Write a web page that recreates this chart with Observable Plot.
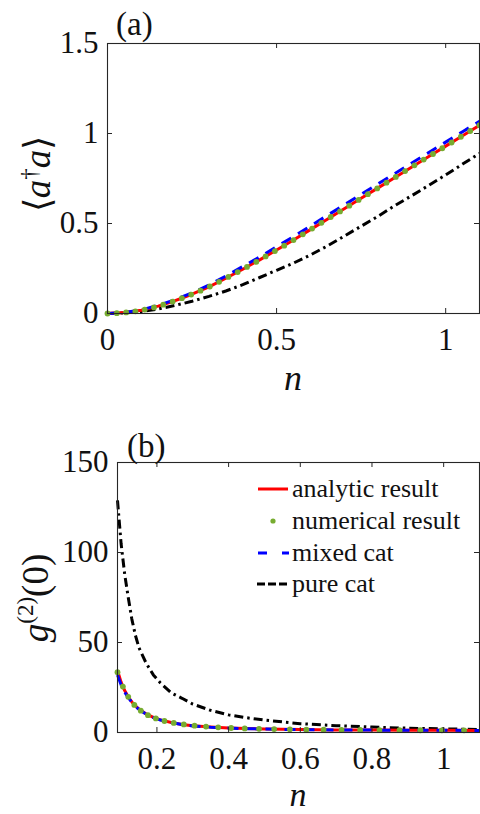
<!DOCTYPE html>
<html>
<head>
<meta charset="utf-8">
<script src="https://cdn.jsdelivr.net/npm/d3@7"></script>
<script src="https://cdn.jsdelivr.net/npm/@observablehq/plot@0.6"></script>
<style>
  html, body { margin: 0; padding: 0; background: #fff; }
  #wrap { position: relative; width: 480px; height: 814px; overflow: hidden; }
  #pa { position: absolute; left: 0; top: 0; }
  #pb { position: absolute; left: 0; top: 400px; }
  svg { overflow: visible; }
  svg text { font-family: "Liberation Serif", "Times New Roman", serif; }
</style>
</head>
<body>
<div id="wrap"><div id="pa"></div><div id="pb"></div></div>
<script>
// ---------- Panel (a): <a†a> vs n ----------
const nA = [0,0.05,0.1,0.15,0.2,0.25,0.3,0.35,0.4,0.45,0.5,0.55,0.6,0.65,0.7,0.75,0.8,0.85,0.9,0.95,1.0,1.05,1.1];
const analyticA = [0,0.005,0.018,0.041,0.071,0.107,0.148,0.196,0.246,0.298,0.353,0.408,0.466,0.524,0.582,0.640,0.698,0.756,0.814,0.872,0.930,0.988,1.046];
const mixedA    = [0,0.005,0.02,0.045,0.077,0.115,0.158,0.208,0.261,0.314,0.371,0.427,0.486,0.545,0.603,0.662,0.72,0.778,0.836,0.894,0.952,1.01,1.068];
const pureA     = [0,0.003,0.011,0.025,0.045,0.068,0.095,0.125,0.16,0.2,0.24,0.28,0.325,0.375,0.43,0.485,0.54,0.6,0.655,0.712,0.77,0.83,0.889];
const nDotsA = [0,0.0275,0.055,0.0825,0.11,0.1375,0.165,0.1925,0.22,0.2475,0.275,0.3025,0.33,0.3575,0.385,0.4125,0.44,0.4675,0.495,0.5225,0.55,0.5775,0.605,0.6325,0.66,0.6875,0.715,0.7425,0.77,0.7975,0.825,0.8525,0.88,0.9075,0.935,0.9625,0.99,1.0175,1.045,1.0725,1.1];
const numericalA = [0,0.002,0.006,0.012,0.022,0.034,0.049,0.066,0.085,0.105,0.127,0.15,0.176,0.203,0.23,0.259,0.287,0.317,0.347,0.377,0.408,0.44,0.472,0.504,0.536,0.567,0.599,0.631,0.663,0.695,0.727,0.759,0.791,0.823,0.855,0.886,0.918,0.95,0.982,1.014,1.046];
const xTicksA = [0,0.5,1];
const yTicksA = [0,0.5,1,1.5];

// ---------- Panel (b): g2(0) vs n ----------
const nB = [0.09,0.10,0.11,0.12,0.13,0.14,0.15,0.17,0.19,0.21,0.24,0.27,0.30,0.35,0.40,0.45,0.50,0.60,0.70,0.80,0.90,1.00,1.10];
const analyticB = [34.5,28,23.3,19.8,17,14.8,13,10.3,8.4,7.0,5.6,4.5,3.7,3.0,2.5,2.2,1.95,1.6,1.45,1.35,1.28,1.22,1.18];
const mixedB    = [32,26.5,22.5,19.4,16.8,14.6,12.8,10.2,8.3,6.9,5.5,4.4,3.6,2.9,2.45,2.15,1.9,1.57,1.42,1.32,1.25,1.2,1.16];
const pureB     = [129,105,88,75,63,54,47,38.5,32,27.5,22,19,15.8,12.3,9.8,8.2,6.9,4.9,3.8,3.0,2.4,2.0,1.7];
const nDotsB = [0.09,0.105,0.12,0.137,0.155,0.175,0.197,0.221,0.247,0.275,0.305,0.337,0.371,0.407,0.445,0.485,0.527,0.571,0.617,0.665,0.715,0.767,0.821,0.877,0.935,0.995,1.057];
const numericalB = [33.5,25.5,19.8,15.3,12.1,9.6,7.8,6.4,5.3,4.5,3.8,3.3,2.85,2.5,2.25,2.05,1.9,1.75,1.62,1.52,1.45,1.39,1.34,1.3,1.26,1.23,1.2];
const xTicksB = [0.2,0.4,0.6,0.8,1];
const yTicksB = [0,50,100,150];

const legendLabels = ["analytic result","numerical result","mixed cat","pure cat"];

const RED = "#ff0000", BLUE = "#0000ff", GREEN = "#77ac30", BLACK = "#000000", AX = "#262626";
const FONT = "Liberation Serif, Times New Roman, serif";

const rows = (xs, ys) => xs.map((x, i) => ({x, y: ys[i]}));

function panel({xDomain, yDomain, height, mt, mb, ml, mr, series, dots, xTicks, yTicks}) {
  const innerH = height - mt - mb;
  const innerW = 480 - ml - mr;
  const T = 5;
  return Plot.plot({
    width: 480, height,
    marginTop: mt, marginBottom: mb, marginLeft: ml, marginRight: mr,
    x: {domain: xDomain},
    y: {domain: yDomain},
    style: `font-family: ${FONT}; font-size: 31px; color: #111; background: white; overflow: visible;`,
    marks: [
      ...series.map(s => Plot.line(s.data, {x: "x", y: "y", stroke: s.color, strokeWidth: s.width, strokeDasharray: s.dash, strokeLinecap: "butt", strokeLinejoin: "round"})),
      Plot.dot(dots, {x: "x", y: "y", r: 2.9, fill: GREEN, stroke: "none"}),
      Plot.frame({stroke: AX, strokeWidth: 1.1}),
      Plot.tickX(xTicks, {x: d => d, insetTop: innerH - T, stroke: AX}),
      Plot.tickX(xTicks, {x: d => d, insetBottom: innerH - T, stroke: AX}),
      Plot.tickY(yTicks, {y: d => d, insetRight: innerW - T, stroke: AX}),
      Plot.tickY(yTicks, {y: d => d, insetLeft: innerW - T, stroke: AX}),
      Plot.axisX(xTicks, {tickSize: 0, tickPadding: 14, label: null, fontSize: 31, fontFamily: FONT, tickFormat: d => String(d)}),
      Plot.axisY(yTicks, {tickSize: 0, tickPadding: 9, label: null, fontSize: 31, fontFamily: FONT, tickFormat: d => String(d)})
    ]
  });
}

const chartA = panel({
  xDomain: [0, 1.1], yDomain: [0, 1.5], height: 400, mt: 43, mb: 87, ml: 107, mr: 1,
  series: [
    {data: rows(nA, pureA), color: BLACK, width: 3, dash: "9,4,2.5,4"},
    {data: rows(nA, analyticA), color: RED, width: 3, dash: null},
    {data: rows(nA, mixedA), color: BLUE, width: 3, dash: "11,8"}
  ],
  dots: rows(nDotsA, numericalA), xTicks: xTicksA, yTicks: yTicksA
});
document.getElementById("pa").appendChild(chartA);

const chartB = panel({
  xDomain: [0.09, 1.1], yDomain: [0, 150], height: 414, mt: 62, mb: 82, ml: 117, mr: 1,
  series: [
    {data: rows(nB, pureB), color: BLACK, width: 3, dash: "9,4,2.5,4"},
    {data: rows(nB, analyticB), color: RED, width: 3, dash: null},
    {data: rows(nB, mixedB), color: BLUE, width: 3, dash: "11,8"}
  ],
  dots: rows(nDotsB, numericalB), xTicks: xTicksB, yTicks: yTicksB
});
document.getElementById("pb").appendChild(chartB);

// ---------- Annotations (titles, axis labels, legend) ----------
function addText(svg, x, y, parts, opts = {}) {
  const t = svg.append("text")
    .attr("font-family", FONT)
    .attr("font-size", opts.size || 30)
    .attr("fill", "#111")
    .attr("text-anchor", opts.anchor || "start")
    .attr("transform", opts.rotate ? `translate(${x},${y}) rotate(${opts.rotate})` : `translate(${x},${y})`);
  for (const p of parts) {
    const s = t.append("tspan").text(p.t);
    if (p.italic) s.attr("font-style", "italic");
    if (p.size) s.attr("font-size", p.size);
    if (p.dy) s.attr("dy", p.dy);
  }
  return t;
}

const sA = d3.select(chartA);
addText(sA, 116, 35, [{t: "(a)"}], {size: 33});
addText(sA, 293, 390, [{t: "n", italic: true}], {size: 36, anchor: "middle"});
addText(sA, 50, 174, [{t: "\u27E8"}, {t: "a", italic: true}, {t: "\u2020", size: 23, dy: -13}, {t: "a", italic: true, dy: 13}, {t: "\u27E9"}], {size: 37, anchor: "middle", rotate: -90});

const sB = d3.select(chartB);
addText(sB, 127, 57, [{t: "(b)"}], {size: 33});
addText(sB, 298, 406, [{t: "n", italic: true}], {size: 34, anchor: "middle"});
addText(sB, 48, 198, [{t: "g", italic: true}, {t: "(2)", size: 23, dy: -15}, {t: "(0)", dy: 15}], {size: 37, anchor: "middle", rotate: -90});

// legend
const legY = [89, 121, 153, 184];
const lg = sB.append("g").attr("text-anchor", "start");
lg.append("line").attr("x1", 258).attr("x2", 288).attr("y1", legY[0]).attr("y2", legY[0]).attr("stroke", RED).attr("stroke-width", 3);
lg.append("circle").attr("cx", 273).attr("cy", legY[1]).attr("r", 2.6).attr("fill", GREEN);
lg.append("line").attr("x1", 258).attr("x2", 289).attr("y1", legY[2]).attr("y2", legY[2]).attr("stroke", BLUE).attr("stroke-width", 3).attr("stroke-dasharray", "9,15,7");
lg.append("line").attr("x1", 257).attr("x2", 289).attr("y1", legY[3]).attr("y2", legY[3]).attr("stroke", BLACK).attr("stroke-width", 3).attr("stroke-dasharray", "8,3,8,3,8");
legendLabels.forEach((lab, i) => {
  lg.append("text").attr("x", 292).attr("y", legY[i] + 8).attr("text-anchor", "start").attr("font-family", FONT).attr("font-size", 26).attr("fill", "#111").text(lab);
});
</script>
</body>
</html>
